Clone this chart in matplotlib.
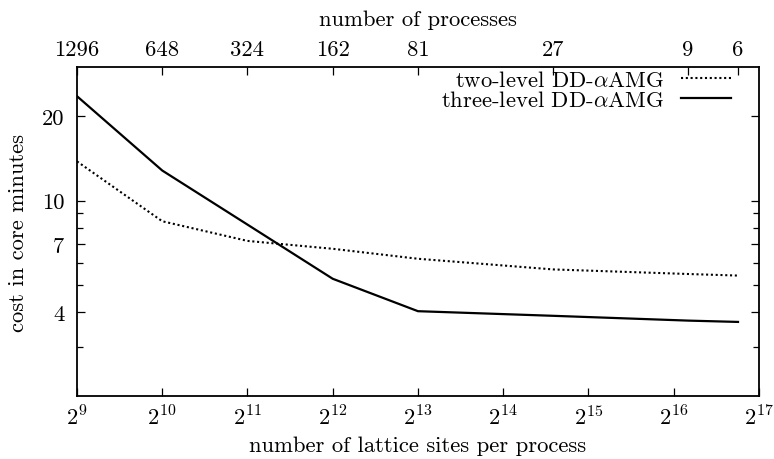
import matplotlib
matplotlib.use("Agg")
import matplotlib.pyplot as plt
from matplotlib.ticker import FixedLocator, FixedFormatter, NullFormatter

plt.rcParams["font.family"] = ["cmr10", "DejaVu Serif"]
plt.rcParams["mathtext.fontset"] = "cm"
plt.rcParams["axes.formatter.use_mathtext"] = True

# total lattice sites, split over the number of processes
total_sites = 663552
processes = [1296, 648, 324, 162, 81, 27, 9, 6]
sites_per_process = [total_sites / p for p in processes]

two_level = [13.8, 8.43, 7.17, 6.72, 6.19, 5.67, 5.46, 5.39]
three_level = [23.6, 12.8, 8.2, 5.25, 4.02, 3.87, 3.72, 3.68]

x_exponents = list(range(9, 18))
y_major = [4, 7, 10, 20]
y_minor = [3, 5, 6, 8, 9]

fs = 16.3
fig = plt.figure(figsize=(7.74, 4.6), dpi=100)
ax = fig.add_axes([0.0995, 0.137, 0.881, 0.715])

ax.plot(sites_per_process, two_level, color="black", lw=1.5,
        linestyle=(0, (1, 1.3)), label=r"two-level DD-$\alpha$AMG")
ax.plot(sites_per_process, three_level, color="black", lw=1.6,
        label=r"three-level DD-$\alpha$AMG")

ax.set_xscale("log", base=2)
ax.set_yscale("log")
ax.set_xlim(2 ** 9, 2 ** 17)
ax.set_ylim(2, 30)

ax.xaxis.set_major_locator(FixedLocator([2 ** e for e in x_exponents]))
ax.xaxis.set_major_formatter(FixedFormatter([r"$2^{%d}$" % e for e in x_exponents]))
ax.xaxis.set_minor_locator(FixedLocator([]))
ax.yaxis.set_major_locator(FixedLocator(y_major))
ax.yaxis.set_major_formatter(FixedFormatter([str(v) for v in y_major]))
ax.yaxis.set_minor_locator(FixedLocator(y_minor))
ax.yaxis.set_minor_formatter(NullFormatter())

ax.tick_params(which="both", direction="in", top=True, right=True, labelsize=fs)
ax.tick_params(which="major", length=6, width=0.9)
ax.tick_params(which="minor", length=4, width=0.9)
ax.tick_params(axis="x", pad=6)
ax.tick_params(axis="y", pad=9)
for s in ax.spines.values():
    s.set_linewidth(1.3)

ax.set_xlabel("number of lattice sites per process", fontsize=fs, labelpad=5)
ax.set_ylabel("cost in core minutes", fontsize=fs, labelpad=10)

ax2 = ax.twiny()
ax2.set_xscale("log", base=2)
ax2.set_xlim(ax.get_xlim())
ax2.xaxis.set_major_locator(FixedLocator(sites_per_process))
ax2.xaxis.set_major_formatter(FixedFormatter([str(p) for p in processes]))
ax2.xaxis.set_minor_locator(FixedLocator([]))
ax2.tick_params(direction="in", length=6, width=0.9, labelsize=fs, pad=6)
ax2.set_xlabel("number of processes", fontsize=fs, labelpad=10)
for s in ax2.spines.values():
    s.set_visible(False)

ax.legend(loc="upper right", bbox_to_anchor=(0.975, 1.025), frameon=False,
          markerfirst=False, fontsize=fs, handlelength=2.2, handletextpad=0.75,
          labelspacing=0.0, borderaxespad=0.1)

fig.savefig("out.png", dpi=100)
